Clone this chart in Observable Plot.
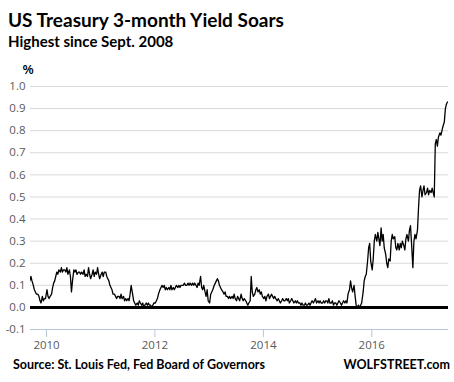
<!DOCTYPE html>
<html><head><meta charset="utf-8">
<script src="https://cdn.jsdelivr.net/npm/d3@7"></script>
<script src="https://cdn.jsdelivr.net/npm/@observablehq/plot@0.6"></script>
<style>
html,body{margin:0;padding:0;background:#fff}
body{width:454px;height:382px;overflow:hidden;position:relative;font-family:Lato,"Open Sans",sans-serif}
.t{position:absolute;line-height:1;white-space:nowrap;color:#000;font-weight:700}
#title{left:8px;top:10px;font-size:19px}
#sub{left:8px;top:34px;font-size:15px}
#src{left:13px;top:359px;font-size:12.5px}
#brand{right:4px;top:359px;font-size:12.5px}
#chart{position:absolute;left:0;top:56px}
</style></head>
<body>
<div class="t" id="title">US Treasury 3-month Yield Soars</div>
<div class="t" id="sub">Highest since Sept. 2008</div>
<div id="chart"></div>
<div class="t" id="src">Source: St. Louis Fed, Fed Board of Governors</div>
<div class="t" id="brand">WOLFSTREET.com</div>
<script>
// Weekly-ish readings (4 per month), starting Sept 2009
const startYear = 2009, startMonth = 9;
const y2009 = [
 0.13,0.12,0.14,0.12, 0.10,0.08,0.07,0.06, 0.06,0.05,0.03,0.02, 0.05,0.03,0.04,0.04
];
const y2010 = [
 0.08,0.05,0.04,0.05, 0.06,0.09,0.11,0.12, 0.14,0.16,0.15,0.17, 0.16,0.18,0.16,0.17,
 0.17,0.16,0.18,0.15, 0.17,0.14,0.07,0.12, 0.17,0.16,0.17,0.15, 0.16,0.16,0.15,0.16,
 0.15,0.17,0.14,0.15, 0.14,0.18,0.15,0.13, 0.15,0.17,0.14,0.16, 0.15,0.18,0.15,0.13
];
const y2011 = [
 0.15,0.16,0.14,0.16, 0.16,0.14,0.13,0.12, 0.10,0.09,0.08,0.06, 0.06,0.05,0.04,0.05,
 0.05,0.04,0.06,0.04, 0.05,0.03,0.04,0.03, 0.04,0.03,0.06,0.10, 0.06,0.03,0.02,0.01,
 0.02,0.01,0.03,0.02, 0.01,0.02,0.00,0.01, 0.02,0.01,0.02,0.01, 0.01,0.00,0.01,0.02
];
const y2012 = [
 0.02,0.03,0.04,0.06, 0.08,0.09,0.10,0.09, 0.10,0.08,0.09,0.08, 0.09,0.08,0.10,0.08,
 0.09,0.08,0.09,0.10, 0.09,0.10,0.09,0.10, 0.10,0.10,0.11,0.10, 0.10,0.11,0.10,0.11,
 0.10,0.11,0.10,0.11, 0.10,0.09,0.11,0.10, 0.14,0.09,0.08,0.10, 0.07,0.05,0.08,0.03
];
const y2013 = [
 0.02,0.06,0.07,0.08, 0.10,0.11,0.12,0.13, 0.12,0.10,0.09,0.08, 0.07,0.06,0.07,0.05,
 0.05,0.04,0.05,0.04, 0.05,0.04,0.06,0.04, 0.03,0.05,0.04,0.03, 0.06,0.04,0.03,0.04,
 0.03,0.02,0.01,0.02, 0.03,0.14,0.07,0.05, 0.06,0.08,0.09,0.07, 0.08,0.06,0.07,0.05
];
const y2014 = [
 0.04,0.05,0.03,0.05, 0.06,0.04,0.05,0.06, 0.05,0.04,0.05,0.04, 0.03,0.04,0.03,0.02,
 0.03,0.04,0.03,0.03, 0.04,0.03,0.04,0.02, 0.03,0.04,0.03,0.02, 0.03,0.02,0.03,0.02,
 0.02,0.01,0.02,0.01, 0.01,0.02,0.01,0.01, 0.02,0.01,0.02,0.03, 0.02,0.03,0.04,0.02
];
const y2015 = [
 0.03,0.02,0.03,0.02, 0.02,0.03,0.02,0.03, 0.03,0.02,0.04,0.02, 0.02,0.03,0.01,0.02,
 0.02,0.01,0.02,0.03, 0.02,0.01,0.02,0.03, 0.02,0.03,0.02,0.06, 0.08,0.12,0.09,0.07,
 0.10,0.05,0.01,0.00, 0.01,0.00,0.01,0.02, 0.07,0.12,0.14,0.15, 0.21,0.27,0.29,0.21
];
const y2016 = [
 0.17,0.22,0.30,0.33, 0.30,0.34,0.31,0.28, 0.36,0.30,0.33,0.27, 0.24,0.20,0.18,0.22,
 0.21,0.30,0.33,0.31, 0.32,0.27,0.26,0.29, 0.26,0.29,0.27,0.30, 0.28,0.26,0.31,0.33,
 0.30,0.35,0.37,0.29, 0.18,0.30,0.33,0.31, 0.35,0.45,0.53,0.55, 0.50,0.53,0.55,0.51
];
const y2017 = [
 0.52,0.54,0.51,0.53, 0.52,0.54,0.52,0.50, 0.74,0.76,0.73,0.77, 0.79,0.78,0.80,0.82,
 0.84,0.90,0.92,0.93
];
const yTicks = [-0.1, 0.0, 0.1, 0.2, 0.3, 0.4, 0.5, 0.6, 0.7, 0.8, 0.9, 1.0];
const xTickYears = [2010, 2012, 2014, 2016];

const values = [].concat(y2009, y2010, y2011, y2012, y2013, y2014, y2015, y2016, y2017);
const data = values.map((v, i) => {
  const m = Math.floor(i / 4), k = i % 4;
  return {date: new Date(Date.UTC(startYear, startMonth - 1 + m, 4 + k * 7)), value: v};
});
const xTicks = xTickYears.map(y => new Date(Date.UTC(y, 0, 1)));
const axisBlue = "#b7c6da";

const chart = Plot.plot({
  width: 454, height: 300,
  marginTop: 30, marginBottom: 27, marginLeft: 30, marginRight: 6,
  style: {fontFamily: "'Open Sans', sans-serif", fontSize: "11.5px", color: "#595959", background: "transparent"},
  x: {type: "utc", domain: [new Date(Date.UTC(2009, 8, 15)), new Date(Date.UTC(2017, 5, 1))]},
  y: {domain: [-0.1, 1.0]},
  marks: [
    Plot.ruleY(yTicks.filter(d => d > 0), {stroke: "#d9d9d9"}),
    Plot.ruleY([yTicks[0]], {stroke: axisBlue}),
    Plot.axisY({ticks: yTicks, tickSize: 0, tickPadding: 5, tickFormat: d => d.toFixed(1), label: null, color: "#595959"}),
    Plot.axisX({ticks: xTicks, tickSize: 8, tickPadding: 3, tickFormat: d => String(d.getUTCFullYear()), label: null, stroke: axisBlue, fill: "#595959"}),
    Plot.text(["%"], {frameAnchor: "top-left", dx: -8, dy: -13, lineAnchor: "bottom", textAnchor: "start", fill: "#000", fontSize: 13, fontWeight: 600}),
    Plot.line(data, {x: "date", y: "value", stroke: "#000", strokeWidth: 1.3, clip: true}),
    Plot.ruleY([0], {stroke: "#000", strokeWidth: 3})
  ]
});
document.getElementById("chart").appendChild(chart);
</script>
</body></html>
